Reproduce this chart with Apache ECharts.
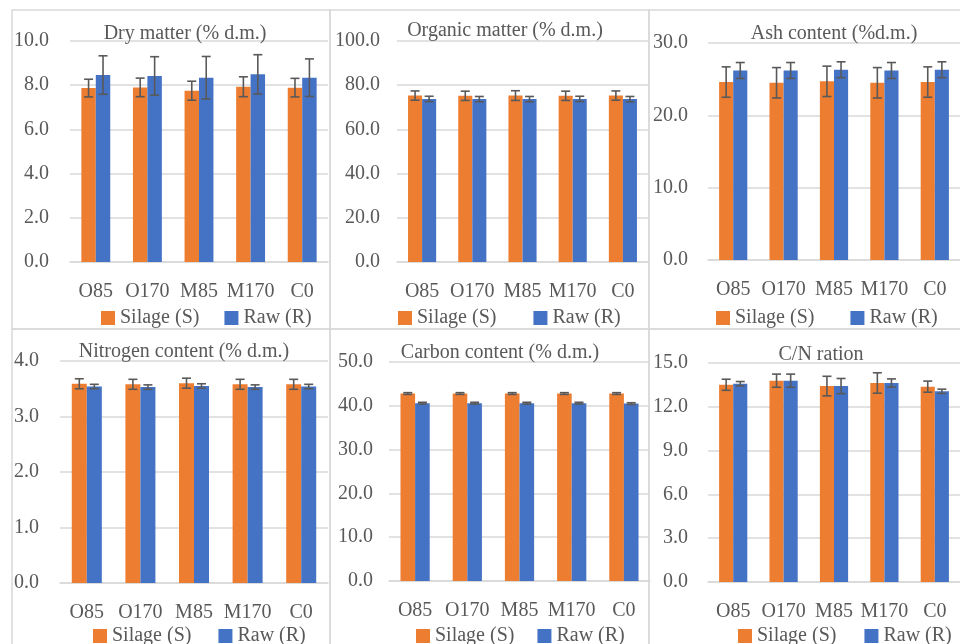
<!DOCTYPE html>
<html>
<head>
<meta charset="utf-8">
<script src="https://cdn.jsdelivr.net/npm/echarts@6/dist/echarts.min.js"></script>
<style>
html,body{margin:0;padding:0;background:#fff;}
#chart{width:960px;height:644px;}
</style>
</head>
<body>
<div id="chart"></div>
<script>
// ---------- DATA ----------
const categories = ['O85', 'O170', 'M85', 'M170', 'C0'];
const seriesNames = ['Silage (S)', 'Raw (R)'];

const panelTitles = ['Dry matter (% d.m.)', 'Organic matter (% d.m.)', 'Ash content (%d.m.)',
                     'Nitrogen content (% d.m.)', 'Carbon content (% d.m.)', 'C/N ration'];

const dmSilage = [7.87, 7.90, 7.75, 7.93, 7.89];
const dmSilageErr = [0.40, 0.42, 0.43, 0.45, 0.42];
const dmRaw = [8.46, 8.42, 8.34, 8.49, 8.34];
const dmRawErr = [0.87, 0.87, 0.96, 0.89, 0.85];

const omSilage = [75.3, 75.2, 75.3, 75.2, 75.3];
const omSilageErr = [2.1, 2.1, 2.2, 2.1, 2.1];
const omRaw = [73.8, 73.7, 73.7, 73.8, 73.7];
const omRawErr = [1.2, 1.2, 1.2, 1.2, 1.2];

const ashSilage = [24.6, 24.5, 24.7, 24.5, 24.6];
const ashSilageErr = [2.1, 2.1, 2.1, 2.1, 2.1];
const ashRaw = [26.2, 26.2, 26.3, 26.2, 26.3];
const ashRawErr = [1.1, 1.1, 1.1, 1.1, 1.1];

const nSilage = [3.59, 3.58, 3.60, 3.58, 3.58];
const nSilageErr = [0.09, 0.09, 0.09, 0.09, 0.09];
const nRaw = [3.54, 3.53, 3.55, 3.53, 3.54];
const nRawErr = [0.04, 0.04, 0.04, 0.04, 0.04];

const cSilage = [42.8, 42.8, 42.8, 42.8, 42.8];
const cSilageErr = [0.2, 0.2, 0.2, 0.2, 0.2];
const cRaw = [40.6, 40.6, 40.6, 40.6, 40.5];
const cRawErr = [0.2, 0.2, 0.2, 0.2, 0.2];

const cnSilage = [13.51, 13.79, 13.42, 13.63, 13.38];
const cnSilageErr = [0.38, 0.45, 0.67, 0.70, 0.38];
const cnRaw = [13.58, 13.79, 13.42, 13.63, 13.06];
const cnRawErr = [0.15, 0.45, 0.52, 0.28, 0.15];

const yMax = [10, 100, 30, 4, 50, 15];
const yInterval = [2, 20, 10, 1, 10, 3];

// ---------- LAYOUT / STYLE ----------
const FONT = 'Liberation Serif';
const TXT = '#595959';
const GRIDC = '#d9d9d9';
const ORANGE = '#ED7D31';
const BLUE = '#4472C4';
const CAT_GAP = 0.44;

const panelData = [
  [dmSilage, dmSilageErr, dmRaw, dmRawErr],
  [omSilage, omSilageErr, omRaw, omRawErr],
  [ashSilage, ashSilageErr, ashRaw, ashRawErr],
  [nSilage, nSilageErr, nRaw, nRawErr],
  [cSilage, cSilageErr, cRaw, cRawErr],
  [cnSilage, cnSilageErr, cnRaw, cnRawErr]
];

const grids = [
  {left: 70, top: 41, width: 258, height: 221},
  {left: 397, top: 41, width: 251, height: 221},
  {left: 708, top: 43, width: 261, height: 217},
  {left: 60, top: 361, width: 268, height: 222},
  {left: 389, top: 362, width: 261, height: 219},
  {left: 708, top: 363, width: 261, height: 219}
];
const yLabelMargin = [21, 17, 20, 21, 16, 20];
const titlePos = [[185, 24], [505, 21], [834, 24], [184, 342], [500, 343], [821, 345]];
const legendPos = [[101, 308, 25], [398, 308, 37], [716, 308, 36], [93, 626, 27], [416, 626, 23], [738, 626, 28]];

function errRender(side) {
  return function (params, api) {
    const x = api.value(0);
    const hi = api.coord([x, api.value(1)]);
    const lo = api.coord([x, api.value(2)]);
    const band = api.size([1, 0])[0];
    const barW = band * (1 - CAT_GAP) / 2;
    const cx = hi[0] + side * barW / 2;
    const cap = 4.5;
    const st = {stroke: '#595959', lineWidth: 1.6};
    return {
      type: 'group',
      children: [
        {type: 'line', shape: {x1: cx, y1: hi[1], x2: cx, y2: lo[1]}, style: st},
        {type: 'line', shape: {x1: cx - cap, y1: hi[1], x2: cx + cap, y2: hi[1]}, style: st},
        {type: 'line', shape: {x1: cx - cap, y1: lo[1], x2: cx + cap, y2: lo[1]}, style: st}
      ]
    };
  };
}

const option = {
  animation: false,
  backgroundColor: '#fff',
  textStyle: {fontFamily: FONT, color: TXT},
  title: [], legend: [], grid: [], xAxis: [], yAxis: [], series: [],
  graphic: []
};

// panel borders
const borders = [
  [12, 10, 318, 319], [330, 10, 319, 319], [649, 10, 330, 319],
  [12, 329, 318, 330], [330, 329, 319, 330], [649, 329, 330, 330]
];
borders.forEach(b => option.graphic.push({
  type: 'rect', shape: {x: b[0], y: b[1], width: b[2], height: b[3]},
  style: {fill: null, stroke: GRIDC, lineWidth: 1.5}, z: -1, silent: true
}));

for (let i = 0; i < 6; i++) {
  option.grid.push(Object.assign({containLabel: false}, grids[i]));
  option.title.push({
    text: panelTitles[i], left: titlePos[i][0], top: titlePos[i][1], textAlign: 'center', padding: 0,
    textStyle: {fontFamily: FONT, fontSize: 20, fontWeight: 'normal', color: TXT}
  });
  option.legend.push({
    data: seriesNames, left: legendPos[i][0], top: legendPos[i][1], itemGap: legendPos[i][2],
    itemWidth: 14, itemHeight: 14, icon: 'rect', padding: 0,
    textStyle: {fontFamily: FONT, fontSize: 20, color: TXT}
  });
  option.xAxis.push({
    type: 'category', gridIndex: i, data: categories,
    axisLine: {lineStyle: {color: GRIDC, width: 1.5}}, axisTick: {show: false},
    axisLabel: {fontFamily: FONT, fontSize: 20, color: TXT, margin: 20, interval: 0}
  });
  option.yAxis.push({
    type: 'value', gridIndex: i, min: 0, max: yMax[i], interval: yInterval[i],
    axisLine: {show: false}, axisTick: {show: false},
    splitLine: {lineStyle: {color: GRIDC, width: 1.5}},
    axisLabel: {fontFamily: FONT, fontSize: 20, color: TXT, margin: yLabelMargin[i],
      formatter: v => v.toFixed(1)}
  });
  const d = panelData[i];
  option.series.push({
    name: seriesNames[0], type: 'bar', xAxisIndex: i, yAxisIndex: i, data: d[0],
    itemStyle: {color: ORANGE}, barGap: '0%', barCategoryGap: '44%'
  });
  option.series.push({
    name: seriesNames[1], type: 'bar', xAxisIndex: i, yAxisIndex: i, data: d[2],
    itemStyle: {color: BLUE}, barGap: '0%', barCategoryGap: '44%'
  });
  option.series.push({
    name: seriesNames[0], type: 'custom', xAxisIndex: i, yAxisIndex: i, z: 5,
    renderItem: errRender(-1), encode: {x: 0, y: [1, 2]},
    data: d[0].map((v, k) => [k, v + d[1][k], v - d[1][k]])
  });
  option.series.push({
    name: seriesNames[1], type: 'custom', xAxisIndex: i, yAxisIndex: i, z: 5,
    renderItem: errRender(1), encode: {x: 0, y: [1, 2]},
    data: d[2].map((v, k) => [k, v + d[3][k], v - d[3][k]])
  });
}

const chart = echarts.init(document.getElementById('chart'), null, {renderer: 'canvas'});
chart.setOption(option);
</script>
</body>
</html>
